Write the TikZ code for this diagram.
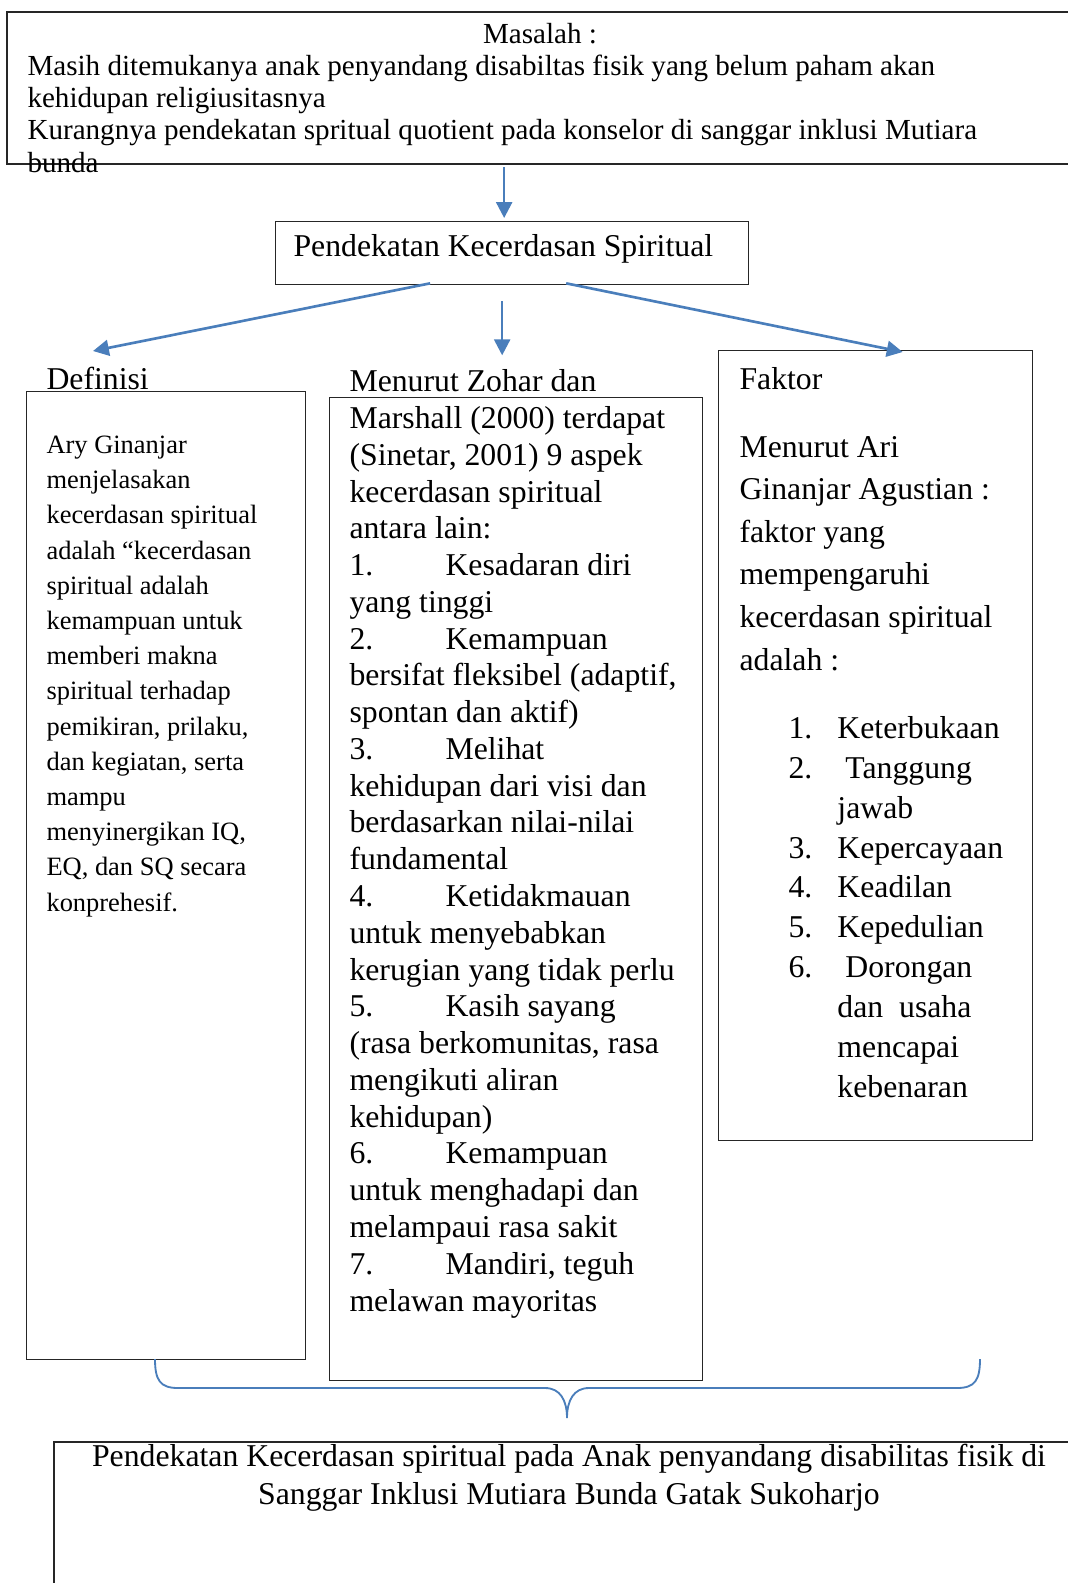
\documentclass[tikz,border=0pt]{standalone}
\usepackage{fontspec}
\setmainfont{Liberation Serif}
\usetikzlibrary{arrows.meta,calc}

\definecolor{wordblue}{RGB}{74,126,187}
\newcommand{\tabn}[1]{\makebox[36.3pt][l]{#1}}
\newcommand{\lnum}[1]{\makebox[18.5pt][l]{#1}}

\begin{document}
\begin{tikzpicture}[x=0.378pt,y=-0.378pt,
  box/.style={draw=black!85,line width=0.5pt,inner sep=0pt,anchor=north west},
  txt/.style={inner sep=0pt,align=left},
  link/.style={draw=wordblue,line width=1pt,-{Triangle[length=6pt,width=6pt]}}]
  \useasboundingbox (0,0) rectangle (1067,1583);

  % boxes
  \node[minimum width=1060*0.378pt,minimum height=151*0.378pt,inner sep=0pt,anchor=north west] (masalah) at (7,12) {};
  \draw[black!85,line width=0.5pt] (masalah.north east) -- (masalah.north west) -- (masalah.south west) -- (masalah.south east);
  \node[box,minimum width=473*0.378pt,minimum height=63*0.378pt] (pks) at (275,221) {};
  \node[box,minimum width=279*0.378pt,minimum height=968*0.378pt] (definisi) at (26,391) {};
  \node[box,minimum width=373*0.378pt,minimum height=983*0.378pt] (zohar) at (329,397) {};
  \node[box,minimum width=314*0.378pt,minimum height=790*0.378pt] (faktor) at (718,350) {};
  \node[minimum width=1013*0.378pt,minimum height=141*0.378pt,inner sep=0pt,anchor=north west] (hasil) at (54,1442) {};
  \draw[black!85,line width=0.5pt] (hasil.north east) -- (hasil.north west) -- (hasil.south west);

  % texts (base = last line)
  \node[txt,anchor=base,font=\fontsize{11}{12.1}\selectfont] (masalahjudul) at (540,43) {Masalah :};
  \node[txt,anchor=base west,font=\fontsize{11}{12.1}\selectfont] (masalahisi) at (27,172)
    {Masih ditemukanya anak penyandang disabiltas fisik yang belum paham akan\\
     kehidupan religiusitasnya\\
     Kurangnya pendekatan spritual quotient pada konselor di sanggar inklusi Mutiara\\
     bunda};
  \node[txt,anchor=base west,font=\fontsize{12}{14}\selectfont] (pkstext) at (293,256) {Pendekatan Kecerdasan Spiritual};

  \node[txt,anchor=base west,font=\fontsize{12}{14}\selectfont] (definisijudul) at (46,389) {Definisi};
  \node[txt,anchor=base west,font=\fontsize{10}{13.3}\selectfont] (definisiisi) at (46,911)
    {Ary Ginanjar\\ menjelasakan\\ kecerdasan spiritual\\ adalah “kecerdasan\\
     spiritual adalah\\ kemampuan untuk\\ memberi makna\\ spiritual terhadap\\
     pemikiran, prilaku,\\ dan kegiatan, serta\\ mampu\\ menyinergikan IQ,\\
     EQ, dan SQ secara\\ konprehesif.};

  \node[txt,anchor=base west,font=\fontsize{12}{13.9}\selectfont] (zoharisi) at (349,1311)
    {Menurut Zohar dan\\ Marshall (2000) terdapat\\ (Sinetar, 2001) 9 aspek\\
     kecerdasan spiritual\\ antara lain:\\
     \tabn{1.}Kesadaran diri\\ yang tinggi\\
     \tabn{2.}Kemampuan\\ bersifat fleksibel (adaptif,\\ spontan dan aktif)\\
     \tabn{3.}Melihat\\ kehidupan dari visi dan\\ berdasarkan nilai-nilai\\ fundamental\\
     \tabn{4.}Ketidakmauan\\ untuk menyebabkan\\ kerugian yang tidak perlu\\
     \tabn{5.}Kasih sayang\\ (rasa berkomunitas, rasa\\ mengikuti aliran\\ kehidupan)\\
     \tabn{6.}Kemampuan\\ untuk menghadapi dan\\ melampaui rasa sakit\\
     \tabn{7.}Mandiri, teguh\\ melawan mayoritas};

  \node[txt,anchor=base west,font=\fontsize{12}{14}\selectfont] (faktorjudul) at (739,389) {Faktor};
  \node[txt,anchor=base west,font=\fontsize{12}{16.1}\selectfont] (faktorisi) at (739,670)
    {Menurut Ari\\ Ginanjar Agustian :\\ faktor yang\\ mempengaruhi\\
     kecerdasan spiritual\\ adalah :};
  \node[txt,anchor=base west,font=\fontsize{12}{15.05}\selectfont] (faktorlist) at (788,1097)
    {\lnum{1.}Keterbukaan\\ \lnum{2.}\ Tanggung\\ \hspace*{18.5pt}jawab\\
     \lnum{3.}Kepercayaan\\ \lnum{4.}Keadilan\\ \lnum{5.}Kepedulian\\
     \lnum{6.}\ Dorongan\\ \hspace*{18.5pt}dan\ \ usaha\\ \hspace*{18.5pt}mencapai\\
     \hspace*{18.5pt}kebenaran};

  \node[txt,anchor=base,align=center,font=\fontsize{12}{14}\selectfont] (hasilisi) at (569,1504)
    {Pendekatan Kecerdasan spiritual pada Anak penyandang disabilitas fisik di\\
     Sanggar Inklusi Mutiara Bunda Gatak Sukoharjo};

  % arrows
  \coordinate (kedefinisi) at (93,351);
  \coordinate (zoharatas) at ($(pks.south)+(-10,16)$);
  \coordinate (zoharbawah) at ($(pks.south)+(-10,70)$);
  \draw[link] (masalah.south -| pks.north) ++(-8,3) -- ($(pks.north)+(-8,-3)$);
  \draw[link] ($(pks.south)+(-82,-2)$) -- (kedefinisi);
  \draw[link] (zoharatas) -- (zoharbawah);
  \draw[link] ($(pks.south)+(54,-2)$) -- ($(faktor.north)+(27,2)$);

  % kurung kurawal
  \coordinate (kurungkiri) at (155,1359);
  \coordinate (kurungujung) at (567,1418);
  \coordinate (kurungkanan) at (980,1359);
  \draw[wordblue,line width=0.7pt] (kurungkiri) .. controls (155,1380) and (160,1388) .. (178,1388)
    -- (545,1388) .. controls (560,1388) and (567,1400) .. (kurungujung)
    .. controls (567,1400) and (574,1388) .. (589,1388) -- (957,1388)
    .. controls (975,1388) and (980,1380) .. (kurungkanan);
\end{tikzpicture}
\end{document}
